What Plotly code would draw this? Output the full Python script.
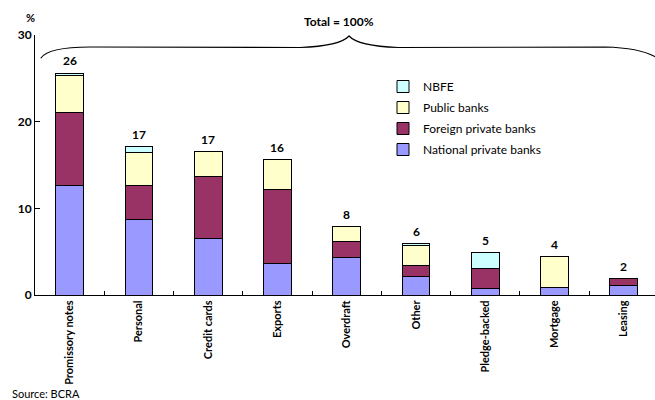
import plotly.graph_objects as go

# Credit stock by type and by group of institutions (% of total)
categories = ["Promissory notes", "Personal", "Credit cards", "Exports", "Overdraft",
              "Other", "Pledge-backed", "Mortgage", "Leasing"]
national_private = [12.6, 8.7, 6.5, 3.6, 4.3, 2.15, 0.8, 0.9, 1.1]
foreign_private = [8.5, 3.9, 7.2, 8.6, 1.9, 1.25, 2.3, 0.0, 0.8]
public_banks = [4.2, 3.9, 2.85, 3.4, 1.7, 2.3, 0.0, 3.5, 0.0]
nbfe = [0.3, 0.6, 0.0, 0.0, 0.0, 0.2, 1.8, 0.0, 0.0]

series = [
    ("National private banks", national_private, "#9999FF"),
    ("Foreign private banks", foreign_private, "#993366"),
    ("Public banks", public_banks, "#FFFFCC"),
    ("NBFE", nbfe, "#CCFFFF"),
]

FONT = "Gill Sans MT, Gill Sans, Lato, sans-serif"

fig = go.Figure()
for i, (name, vals, color) in enumerate(series):
    fig.add_trace(go.Bar(
        x=categories, y=vals, name=name, width=0.4, legendgroup=name,
        legendrank=len(series) - i,
        marker=dict(color=color, line=dict(color="black", width=1)),
    ))

totals = [sum(v) for v in zip(national_private, foreign_private, public_banks, nbfe)]
for cat, tot in zip(categories, totals):
    fig.add_annotation(x=cat, y=tot, text=f"<b>{round(tot)}</b>", showarrow=False,
                       yanchor="bottom", yshift=3,
                       font=dict(family=FONT, size=12, color="black"))

# plot-area geometry (pixels) used to place the brace in paper coordinates
L, R, T, B = 35, 655, 35, 295


def px(x, y):
    return f"{(x - L) / (R - L):.4f},{(B - y) / (B - T):.4f}"


brace = (f"M {px(40.7, 58.3)} Q {px(48, 47)} {px(90, 47)} L {px(300, 47.5)} "
         f"Q {px(340, 46)} {px(349, 36)} Q {px(358, 46)} {px(398, 47.5)} "
         f"L {px(605, 47)} Q {px(645, 48)} {px(660, 60)}")
fig.add_shape(type="path", path=brace, xref="paper", yref="paper",
              line=dict(color="black", width=1.2))

fig.add_annotation(x=(339 - L) / (R - L), y=(B - 12) / (B - T), xref="paper", yref="paper",
                   text="<b>Total = 100%</b>", showarrow=False,
                   font=dict(family=FONT, size=12, color="black"))
fig.add_annotation(x=(24 - L) / (R - L), y=(B - 9) / (B - T), xref="paper", yref="paper",
                   text="<b>%</b>", showarrow=False,
                   font=dict(family=FONT, size=11, color="black"))
fig.add_annotation(x=(10 - L) / (R - L), y=(B - 402) / (B - T), xref="paper", yref="paper",
                   text="Source: BCRA", showarrow=False, xanchor="left",
                   font=dict(family=FONT, size=11, color="black"))

fig.update_layout(
    width=655, height=400,
    margin=dict(l=L, r=655 - R, t=T, b=400 - B),
    barmode="stack",
    plot_bgcolor="white", paper_bgcolor="white",
    font=dict(family=FONT, size=12, color="black"),
    showlegend=True,
    legend=dict(x=(383 - L) / (R - L), y=(B - 72) / (B - T), xanchor="left", yanchor="top",
                traceorder="grouped", tracegroupgap=2,
                font=dict(family=FONT, size=12),
                bgcolor="rgba(0,0,0,0)", itemwidth=30),
    bargap=0.6,
)
fig.update_xaxes(
    range=[-0.5, 8.45], showline=True, linecolor="black", linewidth=1,
    ticks="inside", tickson="boundaries", ticklen=4, tickcolor="black",
    tickangle=-90, tickfont=dict(family=FONT, size=11, color="black", weight="bold"),
    showgrid=False, zeroline=False,
)
fig.update_yaxes(
    range=[0, 30], tickvals=[0, 10, 20, 30], showline=True, linecolor="black", linewidth=1,
    ticks="inside", ticklen=5, tickcolor="black",
    tickfont=dict(family=FONT, size=12, color="black", weight="bold"),
    showgrid=False, zeroline=False,
)

fig.write_html("out.html")
